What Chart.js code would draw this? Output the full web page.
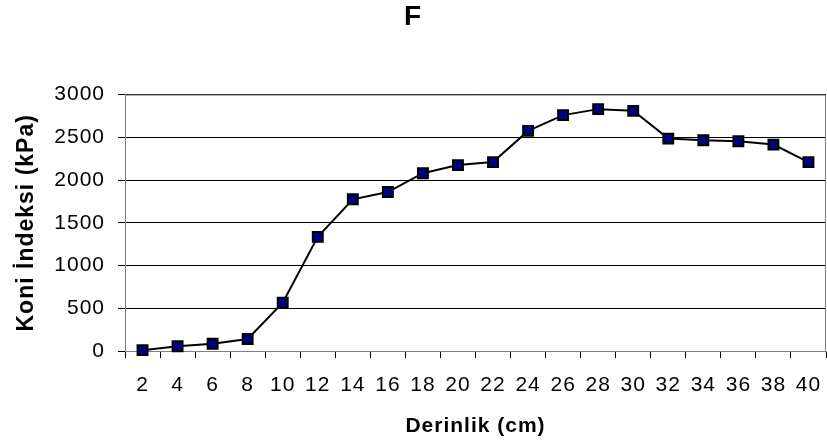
<!DOCTYPE html>
<html>
<head>
<meta charset="utf-8">
<script src="https://cdn.jsdelivr.net/npm/chart.js@4.4.1/dist/chart.umd.min.js"></script>
<style>
    html, body { margin: 0; padding: 0; background: #fff; }
    #chart1 { display: block; }
</style>
</head>
<body>
<canvas id="chart1" width="827" height="445"></canvas>
<script>
// datos
var derinlik = ['2', '4', '6', '8', '10', '12', '14', '16', '18', '20',
                '22', '24', '26', '28', '30', '32', '34', '36', '38', '40'];
var koniIndeksi = [10, 55, 85, 140, 565, 1335, 1775, 1860, 2080, 2175,
                   2210, 2575, 2760, 2830, 2810, 2485, 2465, 2455, 2415, 2210];
var yTicks = [0, 500, 1000, 1500, 2000, 2500, 3000];

var baslik = 'F';
var xBaslik = 'Derinlik (cm)';
var yBaslik = 'Koni İndeksi (kPa)';

(function () {
    var ctx1 = document.getElementById("chart1").getContext("2d");
    var fuente = "'Liberation Sans', Arial, sans-serif";

    // un poco de espacio entre letras, el texto del original es mas ancho
    var espaciado = {
        id: 'espaciado',
        beforeUpdate: function (chart) { chart.ctx.letterSpacing = '1px'; },
        beforeDraw: function (chart) { chart.ctx.letterSpacing = '1px'; }
    };

    // borde gris arriba y a la derecha del area
    var marco = {
        id: 'marco',
        afterDatasetsDraw: function (chart) {
            var a = chart.chartArea;
            var ctx = chart.ctx;
            ctx.save();
            ctx.strokeStyle = '#808080';
            ctx.lineWidth = 1;
            ctx.beginPath();
            ctx.moveTo(a.left, a.top + 0.5);
            ctx.lineTo(a.right - 0.5, a.top + 0.5);
            ctx.lineTo(a.right - 0.5, a.bottom);
            ctx.stroke();
            ctx.restore();
        }
    };

    var chart1 = new Chart(ctx1, {
        type: 'line',
        data: {
            labels: derinlik,
            datasets: [{
                data: koniIndeksi,
                borderColor: '#000000',
                borderWidth: 2,
                pointStyle: 'rect',
                pointRadius: 7,
                pointHoverRadius: 7,
                pointBackgroundColor: '#000080',
                pointBorderColor: '#000000',
                pointBorderWidth: 2,
                tension: 0,
                fill: false,
                clip: false
            }]
        },
        options: {
            responsive: false,
            animation: false,
            events: [],
            layout: { autoPadding: false, padding: { left: 0, right: 1, top: 0, bottom: 0 } },
            plugins: {
                legend: { display: false },
                tooltip: { enabled: false },
                title: {
                    display: true,
                    text: baslik,
                    color: '#000',
                    font: { family: fuente, size: 28, weight: 'bold' },
                    padding: { top: 0, bottom: 61 }
                }
            },
            scales: {
                x: {
                    offset: true,
                    grid: { offset: true, drawOnChartArea: false, color: '#000', tickLength: 7 },
                    border: { color: '#808080', width: 1 },
                    ticks: {
                        color: '#000', padding: 15, maxRotation: 0, autoSkip: false,
                        font: { family: fuente, size: 21 }
                    },
                    title: {
                        display: true, text: xBaslik, color: '#000',
                        font: { family: fuente, size: 21, weight: 'bold' },
                        padding: { top: 0, bottom: 6 }
                    },
                    afterFit: function (s) {
                        s.height = 94;
                        s.paddingLeft = 0;
                        s.paddingRight = 0;
                    }
                },
                y: {
                    min: 0,
                    max: 3000,
                    afterBuildTicks: function (s) {
                        s.ticks = yTicks.map(function (v) { return { value: v }; });
                    },
                    grid: { color: '#000', lineWidth: 1, tickLength: 7 },
                    border: { color: '#808080', width: 1 },
                    ticks: {
                        color: '#000', padding: 13,
                        font: { family: fuente, size: 21 },
                        callback: function (v) { return String(v); }
                    },
                    title: {
                        display: true, text: yBaslik, color: '#000',
                        font: { family: fuente, size: 23, weight: 'bold' },
                        padding: { top: 13, bottom: 0 }
                    },
                    afterFit: function (s) {
                        s.width = 125;
                        s.paddingTop = 0;
                        s.paddingBottom = 0;
                    }
                }
            }
        },
        plugins: [espaciado, marco]
    });
})();
</script>
</body>
</html>
